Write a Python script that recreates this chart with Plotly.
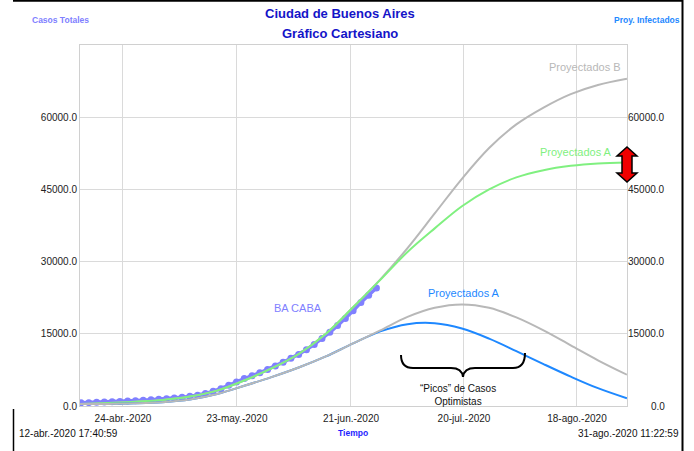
import plotly.graph_objects as go
import pandas as pd

# ---------------- data ----------------
CURVE_DATES = ["2020-04-12 18:00", "2020-04-20", "2020-04-27", "2020-05-04", "2020-05-11",
               "2020-05-18", "2020-05-25", "2020-06-01", "2020-06-08", "2020-06-15",
               "2020-06-22", "2020-06-29", "2020-07-06", "2020-07-13", "2020-07-20",
               "2020-07-27", "2020-08-03", "2020-08-10", "2020-08-17", "2020-08-24",
               "2020-08-31 11:00"]

PROY_B = [400, 600, 900, 1250, 1950, 3200, 5300, 7800, 10800, 15000, 20500, 26300,
          32800, 40000, 47200, 53600, 58500, 62000, 64800, 66700, 68000]
PROY_A_UP = [400, 600, 900, 1250, 1950, 3200, 5300, 7800, 10800, 15000, 20500, 26200,
             32000, 36900, 41500, 45000, 47500, 49000, 49900, 50400, 50600]
PROY_B_LOW = [400, 430, 550, 800, 1350, 2500, 4200, 6000, 8000, 10300, 13000, 15700,
              18500, 20400, 21100, 20400, 18400, 15700, 12600, 9500, 6500]
PROY_A_LOW = [400, 430, 550, 800, 1350, 2500, 4200, 6000, 8000, 10300, 13000, 15500,
              17000, 17200, 16100, 14000, 11400, 8700, 6100, 3700, 1600]

CABA_DATES = pd.date_range("2020-04-13", periods=39, freq="2D")
CABA_CASES = [650, 700, 760, 820, 880, 950, 1020, 1100, 1200,
              1300, 1400, 1520, 1650, 1800, 2000, 2250, 2600, 3050, 3600, 4300, 5000,
              5700, 6300, 6900, 7600,
              8300, 9100, 9900, 10700, 11700, 12800, 14000, 15300, 16700, 18200, 19800,
              21500, 23000, 24500]

X_RANGE = ["2020-04-12 17:40:59", "2020-08-31 11:22:59"]
X_TICKVALS = ["2020-04-23 19:00", "2020-05-23 03:00", "2020-06-21 11:00",
              "2020-07-20 12:40", "2020-08-18 14:20"]
X_TICKTEXT = ["24-abr.-2020", "23-may.-2020", "21-jun.-2020", "20-jul.-2020", "18-ago.-2020"]
Y_TICKS = [0, 15000, 30000, 45000, 60000]

# ---------------- colours ----------------
PURPLE = "rgb(128,128,255)"
GRAY = "rgb(184,184,184)"
GREEN = "rgb(128,240,128)"
BLUE = "rgb(30,136,255)"
FONT = "Arial, Liberation Sans, sans-serif"

W, H = 694, 451
L, R, T, B = 80, 67, 45, 45
PW, PH = W - L - R, H - T - B


def fx(x):
    return (x - L) / PW


def fy(y):
    return (H - B - y) / PH


fig = go.Figure()

fig.add_trace(go.Scatter(x=CABA_DATES, y=CABA_CASES, mode="lines+markers",
                         line=dict(color=PURPLE, width=3.5),
                         marker=dict(color=PURPLE, size=7), name="BA CABA"))
fig.add_trace(go.Scatter(x=CURVE_DATES, y=PROY_B, mode="lines",
                         line=dict(color=GRAY, width=2, shape="spline"), name="Proyectados B"))
fig.add_trace(go.Scatter(x=CURVE_DATES, y=PROY_A_UP, mode="lines",
                         line=dict(color=GREEN, width=2, shape="spline"), name="Proyectados A"))
fig.add_trace(go.Scatter(x=CURVE_DATES, y=PROY_A_LOW, mode="lines",
                         line=dict(color=BLUE, width=2, shape="spline"), name="Proyectados A (inf)"))
fig.add_trace(go.Scatter(x=CURVE_DATES, y=PROY_B_LOW, mode="lines",
                         line=dict(color=GRAY, width=2, shape="spline"), name="Proyectados B (inf)"))

ann = []


def label(text, x, y, size, color, xanchor="center", yref="paper", yval=None):
    ann.append(dict(text=text, x=fx(x), y=fy(y) if yval is None else yval,
                    xref="paper", yref=yref, xanchor=xanchor, yanchor="middle",
                    showarrow=False, font=dict(family=FONT, size=size, color=color)))


# titles
label("<b>Ciudad de Buenos Aires</b>", 340, 14, 13, "rgb(20,20,200)")
label("<b>Gráfico Cartesiano</b>", 340, 33, 13, "rgb(20,20,200)")
label("<b>Casos Totales</b>", 30, 20, 8.5, PURPLE, xanchor="left")
label("<b>Proy. Infectados</b>", 682, 20, 8.5, BLUE, xanchor="right")
# bottom
label("12-abr.-2020 17:40:59", 17, 433, 10, "#111", xanchor="left")
label("31-ago.-2020 11:22:59", 681, 433, 10, "#111", xanchor="right")
label("<b>Tiempo</b>", 353, 433, 8.5, "rgb(30,30,255)")
# right tick labels
for v in Y_TICKS:
    label(f"{v:.1f}", 667, 0, 10, "#222", xanchor="right", yref="y", yval=v)
# series labels
label("Proyectados B", 585, 67, 11, GRAY)
label("Proyectados A", 576, 152, 11, GREEN)
label("Proyectados A", 464, 293, 11, BLUE)
label("BA CABA", 298, 308, 11, PURPLE)
label("“Picos” de Casos<br>Optimistas", 458, 394.5, 10, "#111")

shapes = []


def pt(x, y):
    return f"{fx(x):.5f},{fy(y):.5f}"


brace = (f"M {pt(401,355)} Q {pt(401,368)} {pt(413,368)} L {pt(451,368)} "
         f"Q {pt(462,368)} {pt(463,377)} Q {pt(464,368)} {pt(475,368)} L {pt(513,368)} "
         f"Q {pt(525,368)} {pt(525,353)}")
shapes.append(dict(type="path", path=brace, xref="paper", yref="paper",
                   line=dict(color="black", width=2)))
arrow_pts = [(627, 147), (637, 156), (632, 156), (632, 173), (637, 173), (627, 182),
             (617, 173), (622, 173), (622, 156), (617, 156)]
arrow = "M " + " L ".join(pt(x, y) for x, y in arrow_pts) + " Z"
shapes.append(dict(type="path", path=arrow, xref="paper", yref="paper",
                   fillcolor="rgb(240,0,0)", line=dict(color="black", width=1.5)))
# outer frame pieces
shapes.append(dict(type="line", xref="paper", yref="paper", x0=fx(13), x1=fx(683), y0=fy(0.8), y1=fy(0.8),
                   line=dict(color="black", width=2)))
shapes.append(dict(type="line", xref="paper", yref="paper", x0=fx(682.5), x1=fx(682.5), y0=fy(0), y1=fy(451),
                   line=dict(color="black", width=2)))
shapes.append(dict(type="line", xref="paper", yref="paper", x0=fx(13.5), x1=fx(13.5), y0=fy(409), y1=fy(451),
                   line=dict(color="black", width=1.5)))

fig.update_layout(
    width=W, height=H, margin=dict(l=L, r=R, t=T, b=B, pad=0),
    paper_bgcolor="white", plot_bgcolor="white", showlegend=False,
    annotations=ann, shapes=shapes,
    xaxis=dict(type="date", range=X_RANGE, tickvals=X_TICKVALS, ticktext=X_TICKTEXT,
               showgrid=True, gridcolor="rgb(218,218,218)", gridwidth=1,
               showline=True, linecolor="rgb(208,208,208)", linewidth=1, mirror=True,
               zeroline=False, ticks="", ticklabelstandoff=3,
               tickfont=dict(family=FONT, size=10, color="#222")),
    yaxis=dict(range=[0, 75000], tickvals=Y_TICKS, tickformat=".1f",
               showgrid=True, gridcolor="rgb(218,218,218)", gridwidth=1,
               showline=True, linecolor="rgb(208,208,208)", linewidth=1, mirror=True,
               zeroline=False, ticks="", tickfont=dict(family=FONT, size=10, color="#222")),
)

fig.write_html("out.html", config={"displayModeBar": False},
               post_script="document.body.style.margin='0px';document.body.style.padding='0px';")
